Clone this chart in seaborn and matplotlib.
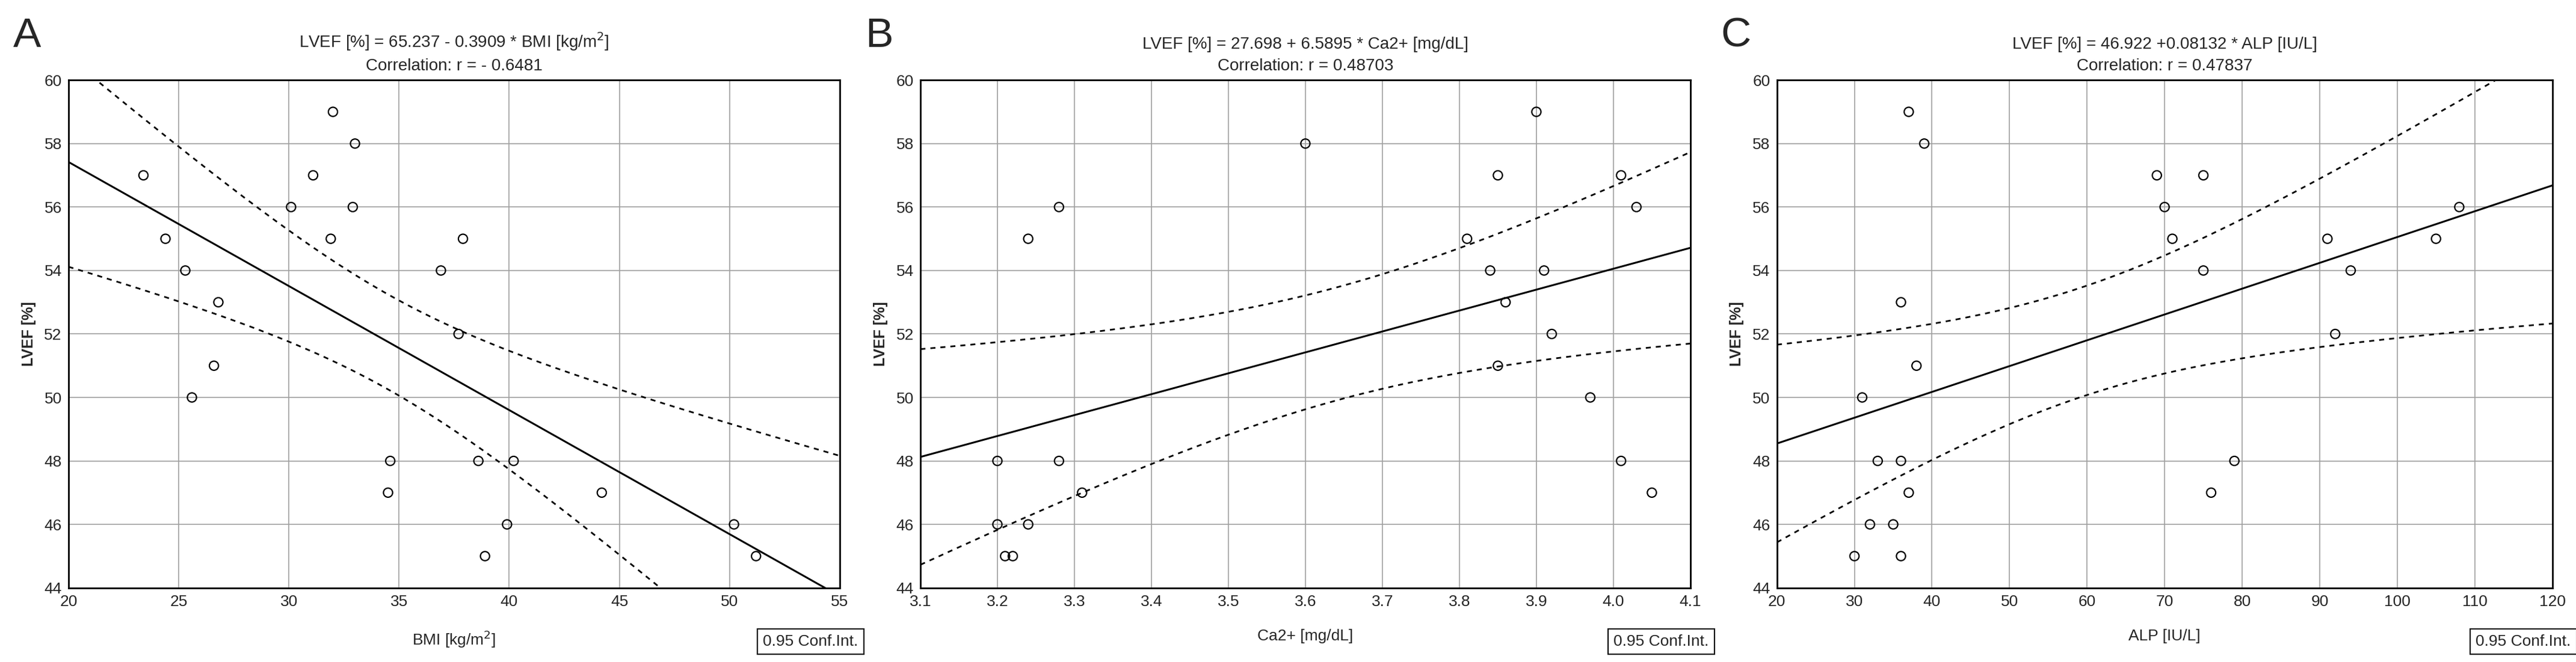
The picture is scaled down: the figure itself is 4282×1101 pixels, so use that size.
import numpy as np
import pandas as pd
import matplotlib
matplotlib.use("Agg")
import matplotlib.pyplot as plt
import seaborn as sns

sns.set_style("white")
plt.rcParams['font.family'] = ['Liberation Sans', 'DejaVu Sans']

bmi = [23.4,24.4,25.3,25.6,26.6,26.8,30.1,31.1,31.9,32.0,32.9,33.0,34.6,34.5,36.9,37.7,37.9,38.6,38.9,39.9,40.2,44.2,50.2,51.2]
lvef_a = [57,55,54,50,51,53,56,57,55,59,56,58,48,47,54,52,55,48,45,46,48,47,46,45]
ca = [3.20,3.20,3.21,3.22,3.24,3.24,3.28,3.28,3.31,3.60,3.81,3.84,3.85,3.85,3.86,3.90,3.91,3.92,3.97,4.01,4.01,4.03,4.05]
lvef_b = [48,46,45,45,55,46,56,48,47,58,55,54,57,51,53,59,54,52,50,57,48,56,47]
alp = [30,31,32,33,35,36,36,36,37,37,38,39,69,70,71,75,75,76,79,91,92,94,105,108]
lvef_c = [45,50,46,48,46,53,48,45,59,47,51,58,57,56,55,57,54,47,48,55,52,54,55,56]

panels = [
    dict(letter="A", x=bmi, y=lvef_a, a=65.237, b=-0.3909,
         title="LVEF [%] = 65.237 - 0.3909 * BMI [kg/m$^2$]\nCorrelation: r = - 0.6481",
         xlabel="BMI [kg/m$^2$]", xlim=(20, 55), xticks=np.arange(20, 56, 5), fmt="{:.0f}",
         rect=[0.0266, 0.112, 0.2994, 0.767]),
    dict(letter="B", x=ca, y=lvef_b, a=27.698, b=6.5895,
         title="LVEF [%] = 27.698 + 6.5895 * Ca2+ [mg/dL]\nCorrelation: r = 0.48703",
         xlabel="Ca2+ [mg/dL]", xlim=(3.1, 4.1), xticks=np.round(np.arange(3.1, 4.11, 0.1), 1), fmt="{:.1f}",
         rect=[0.3573, 0.112, 0.2989, 0.767]),
    dict(letter="C", x=alp, y=lvef_c, a=46.922, b=0.08132,
         title="LVEF [%] = 46.922 +0.08132 * ALP [IU/L]\nCorrelation: r = 0.47837",
         xlabel="ALP [IU/L]", xlim=(20, 120), xticks=np.arange(20, 121, 10), fmt="{:.0f}",
         rect=[0.6898, 0.112, 0.301, 0.767]),
]

fig = plt.figure(figsize=(42.82, 11.01), dpi=100)
for p in panels:
    ax = fig.add_axes(p["rect"])
    x = np.array(p["x"], float); y = np.array(p["y"], float)
    df = pd.DataFrame({"x": x, "y": y})
    sns.scatterplot(data=df, x="x", y="y", ax=ax, marker="o", s=120,
                    facecolor="none", edgecolor="black", linewidth=1.6, zorder=3)
    xs = np.linspace(p["xlim"][0], p["xlim"][1], 200)
    yhat = p["a"] + p["b"] * xs
    n = len(x)
    resid = y - (p["a"] + p["b"] * x)
    s = np.sqrt(np.sum(resid**2) / (n - 2))
    sxx = np.sum((x - x.mean())**2)
    se = s * np.sqrt(1/n + (xs - x.mean())**2 / sxx)
    t = 2.07
    sns.lineplot(x=xs, y=yhat, ax=ax, color="black", linewidth=2.2)
    sns.lineplot(x=xs, y=yhat + t*se, ax=ax, color="black", linewidth=2, linestyle=(0, (3, 3)))
    sns.lineplot(x=xs, y=yhat - t*se, ax=ax, color="black", linewidth=2, linestyle=(0, (3, 3)))
    ax.set_xlim(*p["xlim"]); ax.set_ylim(44, 60)
    ax.set_xticks(p["xticks"]); ax.set_xticklabels([p["fmt"].format(v) for v in p["xticks"]])
    ax.set_yticks(np.arange(44, 61, 2))
    ax.grid(True, color="#a0a0a0", linewidth=1.2)
    ax.set_axisbelow(True)
    for sp in ax.spines.values():
        sp.set_color("black"); sp.set_linewidth(2)
    ax.tick_params(labelsize=19, length=0, pad=8)
    ax.set_xlabel(p["xlabel"], fontsize=19, labelpad=24)
    ax.set_ylabel("LVEF [%]", fontsize=18, fontweight="bold", labelpad=10)
    ax.set_title(p["title"], fontsize=20, pad=12, linespacing=1.5)
    ax.text(-0.072, 1.087, p["letter"], transform=ax.transAxes, fontsize=50, va="center", ha="left")
    ax.text(1.024, -0.106, "0.95 Conf.Int.", transform=ax.transAxes, fontsize=19,
            ha="right", va="center", bbox=dict(boxstyle="square,pad=0.35", fc="white", ec="black", lw=1.5))

fig.savefig("out.png", dpi=100)
